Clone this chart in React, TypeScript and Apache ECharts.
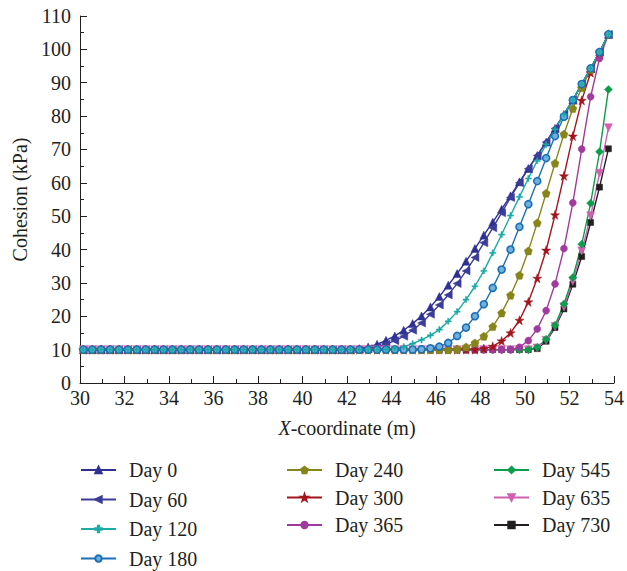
import React, { useEffect, useRef } from "react";
import * as echarts from "echarts";

// Node positions along the slope surface (m)
const XS = [
  30.15, 30.55, 30.95, 31.35, 31.75, 32.15, 32.55, 32.95, 33.35, 33.75,
  34.15, 34.55, 34.95, 35.35, 35.75, 36.15, 36.55, 36.95, 37.35, 37.75,
  38.15, 38.55, 38.95, 39.35, 39.75, 40.15, 40.55, 40.95, 41.35, 41.75,
  42.15, 42.55, 42.95, 43.35, 43.75, 44.15, 44.55, 44.95, 45.35, 45.75,
  46.15, 46.55, 46.95, 47.35, 47.75, 48.15, 48.55, 48.95, 49.35, 49.75,
  50.15, 50.55, 50.95, 51.35, 51.75, 52.15, 52.55, 52.95, 53.35, 53.75,
];

// Cohesion (kPa) at each node for each day
const DAY_0 = [
  10, 10, 10, 10, 10, 10, 10, 10, 10, 10,
  10, 10, 10, 10, 10, 10, 10, 10, 10, 10,
  10, 10, 10, 10, 10, 10, 10, 10, 10, 10,
  10, 10.3, 10.8, 11.6, 12.8, 14.1, 15.8, 17.8, 20.1, 22.8,
  25.9, 29.3, 32.8, 36.5, 40.3, 44.3, 48.2, 52.1, 56.1, 60.3,
  64.3, 68.2, 72.2, 76.3, 80.5, 84.8, 89.6, 94.3, 99.2, 104.5,
];
const DAY_60 = [
  10, 10, 10, 10, 10, 10, 10, 10, 10, 10,
  10, 10, 10, 10, 10, 10, 10, 10, 10, 10,
  10, 10, 10, 10, 10, 10, 10, 10, 10, 10,
  10, 10, 10.3, 10.8, 11.6, 12.7, 14.0, 15.8, 18.0, 20.6,
  23.4, 26.4, 29.8, 33.6, 37.6, 42.0, 46.5, 51.0, 55.6, 60.0,
  64.2, 68.2, 72.2, 76.3, 80.5, 84.8, 89.6, 94.3, 99.2, 104.5,
];
const DAY_120 = [
  10, 10, 10, 10, 10, 10, 10, 10, 10, 10,
  10, 10, 10, 10, 10, 10, 10, 10, 10, 10,
  10, 10, 10, 10, 10, 10, 10, 10, 10, 10,
  10, 10, 10, 10, 10.1, 10.4, 10.9, 11.8, 12.9, 14.3,
  16.0, 18.5, 21.4, 25.0, 29.0, 33.6, 39.0, 44.5, 50.2, 55.8,
  61.3, 66.6, 71.5, 76.0, 80.5, 84.8, 89.6, 94.3, 99.2, 104.5,
];
const DAY_180 = [
  10, 10, 10, 10, 10, 10, 10, 10, 10, 10,
  10, 10, 10, 10, 10, 10, 10, 10, 10, 10,
  10, 10, 10, 10, 10, 10, 10, 10, 10, 10,
  10, 10, 10, 10, 10, 10, 10, 10, 10.1, 10.4,
  10.9, 12.0, 14.1, 16.6, 20.0, 23.6, 28.5, 34.0, 40.0, 46.8,
  53.6, 60.5, 67.4, 74.0, 79.8, 84.8, 89.6, 94.3, 99.2, 104.5,
];
const DAY_240 = [
  10, 10, 10, 10, 10, 10, 10, 10, 10, 10,
  10, 10, 10, 10, 10, 10, 10, 10, 10, 10,
  10, 10, 10, 10, 10, 10, 10, 10, 10, 10,
  10, 10, 10, 10, 10, 10, 10, 10, 10, 10,
  10, 10, 10.2, 10.8, 12.0, 14.0, 16.9, 21.0, 26.3, 32.3,
  39.6, 48.0, 56.9, 65.9, 74.6, 82.3, 88.5, 94.0, 99.2, 104.5,
];
const DAY_300 = [
  10, 10, 10, 10, 10, 10, 10, 10, 10, 10,
  10, 10, 10, 10, 10, 10, 10, 10, 10, 10,
  10, 10, 10, 10, 10, 10, 10, 10, 10, 10,
  10, 10, 10, 10, 10, 10, 10, 10, 10, 10,
  10, 10, 10, 10, 10, 10.3, 11.0, 12.6, 15.0, 18.8,
  24.3, 31.4, 39.8, 50.4, 62.1, 74.0, 84.7, 93.0, 99.0, 104.5,
];
const DAY_365 = [
  10, 10, 10, 10, 10, 10, 10, 10, 10, 10,
  10, 10, 10, 10, 10, 10, 10, 10, 10, 10,
  10, 10, 10, 10, 10, 10, 10, 10, 10, 10,
  10, 10, 10, 10, 10, 10, 10, 10, 10, 10,
  10, 10, 10, 10, 10, 10, 10, 10, 10, 10.7,
  12.7, 16.2, 21.7, 29.7, 40.3, 54.0, 70.1, 85.8, 97.3, 104.5,
];
const DAY_545 = [
  10, 10, 10, 10, 10, 10, 10, 10, 10, 10,
  10, 10, 10, 10, 10, 10, 10, 10, 10, 10,
  10, 10, 10, 10, 10, 10, 10, 10, 10, 10,
  10, 10, 10, 10, 10, 10, 10, 10, 10, 10,
  10, 10, 10, 10, 10, 10, 10, 10, 10, 10,
  10, 10.7, 13.1, 17.3, 23.7, 31.6, 41.6, 53.9, 69.3, 88.0,
];
const DAY_635 = [
  10, 10, 10, 10, 10, 10, 10, 10, 10, 10,
  10, 10, 10, 10, 10, 10, 10, 10, 10, 10,
  10, 10, 10, 10, 10, 10, 10, 10, 10, 10,
  10, 10, 10, 10, 10, 10, 10, 10, 10, 10,
  10, 10, 10, 10, 10, 10, 10, 10, 10, 10,
  10, 10.5, 12.8, 17.0, 22.8, 30.5, 39.6, 50.1, 62.9, 76.5,
];
const DAY_730 = [
  10, 10, 10, 10, 10, 10, 10, 10, 10, 10,
  10, 10, 10, 10, 10, 10, 10, 10, 10, 10,
  10, 10, 10, 10, 10, 10, 10, 10, 10, 10,
  10, 10, 10, 10, 10, 10, 10, 10, 10, 10,
  10, 10, 10, 10, 10, 10, 10, 10, 10, 10,
  10, 10.3, 12.5, 16.6, 22.2, 29.6, 37.9, 48.1, 58.7, 70.2,
];

const LEGEND_COL_1 = ["Day 0", "Day 60", "Day 120", "Day 180"];
const LEGEND_COL_2 = ["Day 240", "Day 300", "Day 365"];
const LEGEND_COL_3 = ["Day 545", "Day 635", "Day 730"];

const FONT = "'Liberation Serif', 'DejaVu Serif', 'Times New Roman', serif";
const INK = "#231F20";
const FS = 20;

const PLUS = "path://M4,0H6V4H10V6H6V10H4V6H0V4H4Z";
const PENTAGON = "path://M5,0L10,3.8L8.1,10H1.9L0,3.8Z";
const STAR =
  "path://M5,0L6.2,3.6L10,3.6L6.9,5.9L8.1,9.5L5,7.3L1.9,9.5L3.1,5.9L0,3.6L3.8,3.6Z";

type Def = {
  name: string;
  values: number[];
  color: string;
  symbol: string;
  size: number;
  rotate?: number;
  fill?: string;
};

// Drawing order: the later entries sit on top where curves overlap
const DEFS: Def[] = [
  { name: "Day 0", values: DAY_0, color: "#2E3192", symbol: "triangle", size: 8 },
  { name: "Day 60", values: DAY_60, color: "#3B3D99", symbol: "triangle", size: 8, rotate: 90 },
  { name: "Day 730", values: DAY_730, color: "#231F20", symbol: "rect", size: 6 },
  { name: "Day 635", values: DAY_635, color: "#D060B0", symbol: "triangle", size: 8, rotate: 180 },
  { name: "Day 545", values: DAY_545, color: "#0C9E4C", symbol: "diamond", size: 8 },
  { name: "Day 365", values: DAY_365, color: "#A03A9E", symbol: "circle", size: 7 },
  { name: "Day 300", values: DAY_300, color: "#A3141C", symbol: STAR, size: 9 },
  { name: "Day 240", values: DAY_240, color: "#85851A", symbol: PENTAGON, size: 8 },
  { name: "Day 180", values: DAY_180, color: "#1A6FB5", symbol: "circle", size: 7, fill: "#6FB1DE" },
  { name: "Day 120", values: DAY_120, color: "#1BAAA6", symbol: PLUS, size: 6 },
];

const legendBlock = (data: string[], left: number, gap: number) => ({
  data,
  orient: "vertical" as const,
  left,
  top: 460,
  height: 111,
  padding: 0,
  itemWidth: 35,
  itemHeight: 8,
  itemGap: gap,
  textStyle: {
    fontFamily: FONT,
    fontSize: FS,
    color: INK,
    lineHeight: 20,
    padding: [0, 0, 0, 8],
  },
});

export default function App() {
  const ref = useRef<HTMLDivElement>(null);

  useEffect(() => {
    if (!ref.current) return;
    const chart = echarts.init(ref.current, undefined, { renderer: "svg" });

    const series = DEFS.map((d) => ({
      name: d.name,
      type: "line",
      data: XS.map((x, i) => [x, d.values[i]]),
      symbol: d.symbol,
      symbolSize: d.size,
      symbolRotate: d.rotate ?? 0,
      showAllSymbol: true,
      lineStyle: { color: d.color, width: 1.4 },
      itemStyle: d.fill
        ? { color: d.fill, borderColor: d.color, borderWidth: 1.6 }
        : { color: d.color, borderColor: d.color, borderWidth: 0.5 },
      emphasis: { disabled: true },
    }));

    chart.setOption({
      animation: false,
      backgroundColor: "#ffffff",
      grid: { left: 80, top: 16, width: 535, height: 367, containLabel: false },
      xAxis: {
        type: "value",
        min: 30,
        max: 54,
        interval: 2,
        name: "{i|X}-coordinate (m)",
        nameLocation: "middle",
        nameGap: 35,
        nameTextStyle: {
          fontFamily: FONT,
          fontSize: FS,
          color: INK,
          rich: {
            i: { fontFamily: FONT, fontSize: FS, color: INK, fontStyle: "italic" },
          },
        },
        axisLine: { lineStyle: { color: INK, width: 1 } },
        axisTick: { inside: true, length: 7, lineStyle: { color: INK } },
        minorTick: { show: true, splitNumber: 2, length: 4, lineStyle: { color: INK } },
        axisLabel: { fontFamily: FONT, fontSize: FS, color: INK, margin: 5 },
        splitLine: { show: false },
      },
      yAxis: {
        type: "value",
        min: 0,
        max: 110,
        interval: 10,
        name: "Cohesion (kPa)",
        nameLocation: "middle",
        nameGap: 48,
        nameTextStyle: { fontFamily: FONT, fontSize: FS, color: INK },
        axisLine: { show: true, lineStyle: { color: INK, width: 1 } },
        axisTick: { show: true, inside: true, length: 7, lineStyle: { color: INK } },
        minorTick: { show: true, splitNumber: 2, length: 4, lineStyle: { color: INK } },
        axisLabel: { fontFamily: FONT, fontSize: FS, color: INK, margin: 9 },
        splitLine: { show: false },
      },
      legend: [
        legendBlock(LEGEND_COL_1, 80, 9.5),
        legendBlock(LEGEND_COL_2, 286, 7.5),
        legendBlock(LEGEND_COL_3, 493, 7.5),
      ],
      series,
    });

    return () => chart.dispose();
  }, []);

  return (
    <div
      ref={ref}
      style={{ position: "fixed", left: 0, top: 0, width: 627, height: 571, background: "#fff" }}
    />
  );
}
